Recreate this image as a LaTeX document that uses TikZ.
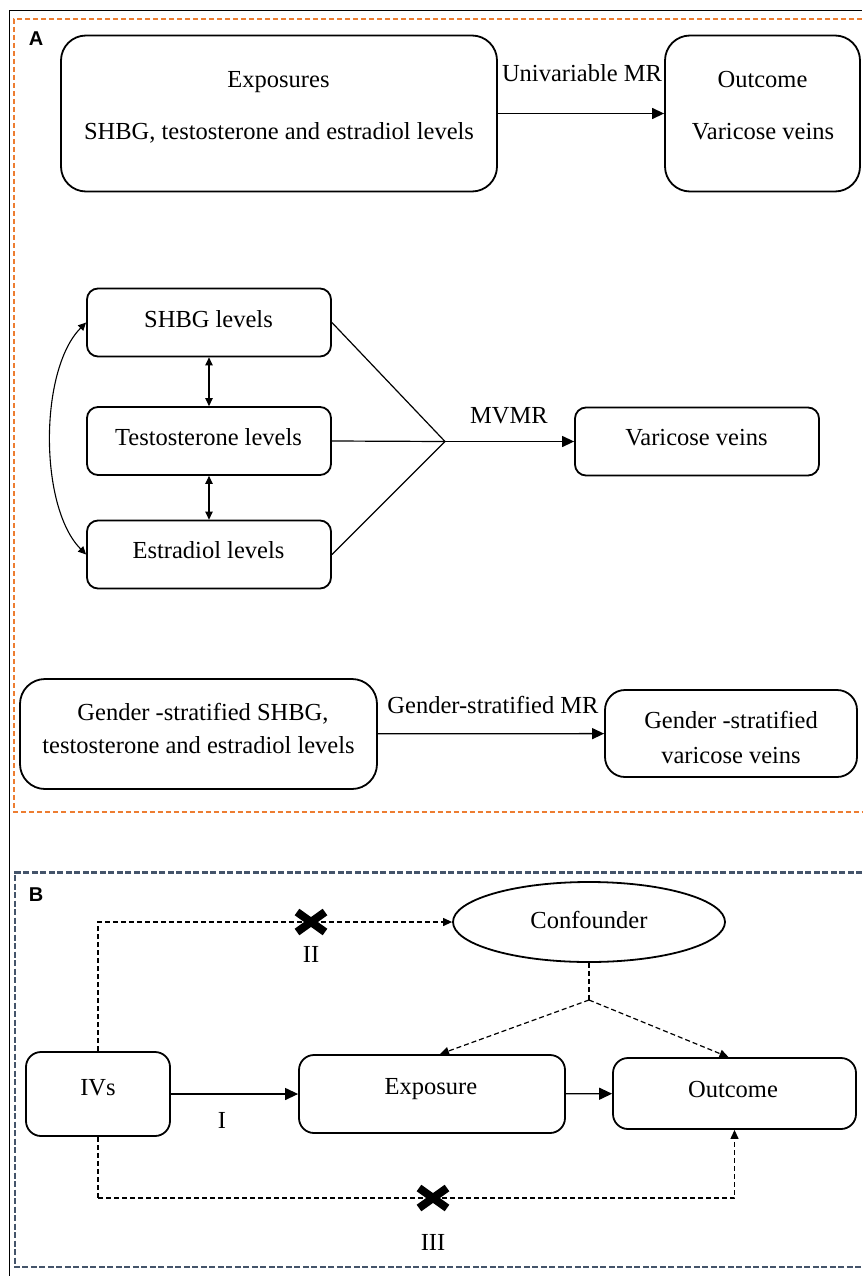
\documentclass[tikz,border=0pt]{standalone}
\usepackage{fontspec}
\setmainfont{Liberation Serif}
\newfontfamily\labfont{Liberation Sans}
\usetikzlibrary{arrows.meta,shapes.geometric}
\definecolor{orangeF}{RGB}{237,125,49}
\definecolor{blueF}{RGB}{68,84,106}
\begin{document}
\begin{tikzpicture}[x=1pt,y=-1pt,
  box/.style={draw,line width=1.8pt,inner sep=0pt},
  txt/.style={anchor=base,inner sep=0pt,font=\fontsize{24.5}{29}\selectfont},
  panlab/.style={anchor=base,inner sep=0pt,font=\labfont\bfseries\fontsize{20}{22}\selectfont},
  conn/.style={line width=1.2pt},
  arrowA/.style={line width=1.3pt,-{Triangle[length=12pt,width=11pt]}},
  dblarrow/.style={line width=1.1pt,{Triangle[length=8pt,width=7.5pt]}-{Triangle[length=8pt,width=7.5pt]}},
  arrowB/.style={line width=1.3pt,-{Triangle[length=13pt,width=12pt]}},
  dashline/.style={line width=1.2pt,dash pattern=on 5pt off 3pt},
  dasharr/.style={dashline,-{Triangle[length=9pt,width=8pt]}},
  crossx/.style={line width=8pt,line cap=butt},
  mark0/.style={inner sep=0pt,minimum size=0pt}
]
\useasboundingbox (0,0) rectangle (862,1276);
\fill[white] (0,0) rectangle (862,1276);

% frames
\draw[black,line width=1.5pt] (9.5,1276) -- (9.5,10.5) -- (862,10.5);
\draw[orangeF,line width=2pt,dash pattern=on 5pt off 3pt] (862,19) -- (14,19) -- (14,811.5) -- (862,811.5);
\draw[blueF,line width=2.2pt,dash pattern=on 6pt off 2.5pt] (862,872.5) -- (14.7,872.5) -- (14.7,1267) -- (862,1267);

\node[panlab] (la) at (36,46) {A};
\node[panlab] (lb) at (36,901) {B};

% ---------- Panel A ----------
\node[box,rounded corners=25pt,minimum width=436pt,minimum height=156pt] (expo) at (279,113.5) {};
\node[box,rounded corners=25pt,minimum width=195pt,minimum height=156pt] (outc) at (762.5,113.5) {};
\node[txt] (t1) at (278.5,88) {Exposures};
\node[txt] (t2) at (279,140) {SHBG, testosterone and estradiol levels};
\node[txt] (t3) at (762.5,88) {Outcome};
\node[txt] (t4) at (763,140) {Varicose veins};
\node[txt] (t5) at (582,82) {Univariable MR};
\draw[arrowA] (expo) -- (outc);

\node[box,rounded corners=11pt,minimum width=244pt,minimum height=68pt] (shbg) at (209,322.5) {};
\node[box,rounded corners=11pt,minimum width=244pt,minimum height=68pt] (testo) at (209,441) {};
\node[box,rounded corners=11pt,minimum width=244pt,minimum height=68pt] (estr) at (209,554.5) {};
\node[box,rounded corners=11pt,minimum width=244pt,minimum height=68pt] (vv) at (697,441.5) {};
\node[txt] (t6) at (208.5,327) {SHBG levels};
\node[txt] (t7) at (208.5,445) {Testosterone levels};
\node[txt] (t8) at (208.5,558) {Estradiol levels};
\node[txt] (t9) at (696.5,445) {Varicose veins};
\node[txt] (t10) at (509,423) {MVMR};

\draw[dblarrow] (shbg) -- (testo);
\draw[dblarrow] (testo) -- (estr);
\draw[dblarrow] (shbg.west) .. controls (39,370) and (39,507) .. (estr.west);
\coordinate (j) at (445,441.5);
\draw[conn] (shbg.east) -- (j);
\draw[conn] (testo.east) -- (j);
\draw[conn] (estr.east) -- (j);
\draw[arrowA] (j) -- (vv.west);

\node[box,rounded corners=25pt,minimum width=357pt,minimum height=110pt] (gexp) at (198.5,734) {};
\node[box,rounded corners=20pt,minimum width=252pt,minimum height=87pt] (gout) at (731,733.5) {};
\node[txt] (t11) at (203,720) {Gender -stratified SHBG,};
\node[txt] (t12) at (198.5,753) {testosterone and estradiol levels};
\node[txt] (t13) at (731,728) {Gender -stratified};
\node[txt] (t14) at (731,763) {varicose veins};
\node[txt] (t15) at (493,713) {Gender-stratified MR};
\draw[arrowA] (gexp) -- (gout);

% ---------- Panel B ----------
\node[draw,ellipse,line width=1.8pt,inner sep=0pt,minimum width=272pt,minimum height=80pt] (conf) at (589,922) {};
\node[box,rounded corners=15pt,minimum width=144pt,minimum height=84pt] (ivs) at (98,1094) {};
\node[box,rounded corners=15pt,minimum width=266pt,minimum height=78pt] (bexp) at (432,1094) {};
\node[box,rounded corners=15pt,minimum width=243pt,minimum height=71pt] (bout) at (734.5,1093.5) {};
\node[txt] (t16) at (589,928) {Confounder};
\node[txt] (t17) at (98,1095) {IVs};
\node[txt] (t18) at (431,1094) {Exposure};
\node[txt] (t19) at (733,1097) {Outcome};
\node[txt] (t20) at (222,1128) {I};
\node[txt] (t21) at (311,962) {II};
\node[txt] (t22) at (433,1250) {III};

\draw[arrowB] (ivs) -- (bexp);
\draw[arrowB] (bexp) -- (bout);
\draw[dasharr] (ivs.north) |- (conf.west);
\coordinate (j2) at (589,1000);
\draw[dashline] (conf.south) -- (j2);
\draw[dasharr] (j2) -- ([xshift=8pt]bexp.north);
\draw[dasharr] (j2) -- ([xshift=-6pt]bout.north);
\coordinate (b1) at (98,1198);
\draw[dashline] (ivs.south) -- (b1);
\draw[dasharr] (b1) -| (bout.south);

\node[mark0] (x2) at (311,922) {};
\node[mark0] (x3) at (433,1198) {};
\draw[crossx] ([shift={(-14,-10)}]x2.center) -- ([shift={(14,10)}]x2.center);
\draw[crossx] ([shift={(-14,10)}]x2.center) -- ([shift={(14,-10)}]x2.center);
\draw[crossx] ([shift={(-14,-10)}]x3.center) -- ([shift={(14,10)}]x3.center);
\draw[crossx] ([shift={(-14,10)}]x3.center) -- ([shift={(14,-10)}]x3.center);
\end{tikzpicture}
\end{document}
